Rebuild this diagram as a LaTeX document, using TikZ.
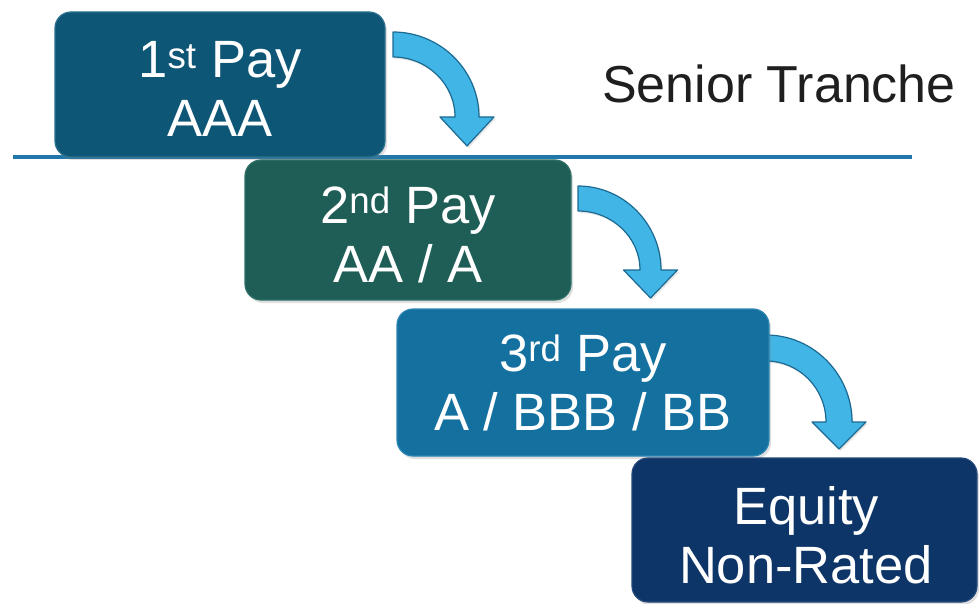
\documentclass[tikz,border=0pt]{standalone}
\usepackage{fontspec}
\setmainfont{Liberation Sans}
\usetikzlibrary{shadows}
\definecolor{cA}{HTML}{0E5676}
\definecolor{cAe}{HTML}{2A6F8E}
\definecolor{cB}{HTML}{1F5E56}
\definecolor{cBe}{HTML}{2E7168}
\definecolor{cC}{HTML}{13709F}
\definecolor{cCe}{HTML}{2C86B4}
\definecolor{cD}{HTML}{0E3567}
\definecolor{cDe}{HTML}{24497A}
\definecolor{arrfill}{HTML}{41B5E6}
\definecolor{arredge}{HTML}{1C6A92}
\definecolor{linec}{HTML}{2277AA}
\newcommand{\bentarrow}[8]{%
 \path[bentstyle] (#1,#2) .. controls ({#1+0.55*(#4-#1)},#2) and (#4,{#6-0.55*(#6-#2)}) .. (#4,#6)
  -- ({(#4+#5)/2+#7},#6) -- ({(#4+#5)/2},#8) -- ({(#4+#5)/2-#7},#6) -- (#5,#6)
  .. controls (#5,{#6-0.55*(#6-#2-#3)}) and ({#1+0.55*(#5-#1)},{#2+#3}) .. (#1,{#2+#3}) -- cycle;}
\begin{document}
\begin{tikzpicture}[x=1pt,y=-1pt,
  tranche/.style={rounded corners=16pt, line width=1.2pt, inner sep=0pt,
    drop shadow={opacity=0.25, shadow xshift=2pt, shadow yshift=-3pt}},
  label/.style={text=white, align=center, font=\fontsize{52.5}{59}\selectfont, anchor=base},
  bentstyle/.style={fill=arrfill, draw=arredge, line width=1.2pt, line join=round,
    drop shadow={opacity=0.2, shadow xshift=1.5pt, shadow yshift=-2pt}},
  sep/.style={draw=linec, line width=3.5pt}]
\useasboundingbox (0,0) rectangle (979,604);
\coordinate (l1) at (13,157);
\coordinate (l2) at (912,157);
\draw[sep] (l1) -- (l2);
\bentarrow{393}{32}{25}{479}{455}{117}{27}{146}
\bentarrow{578}{186}{25}{661}{640}{270}{27}{298}
\bentarrow{766}{335}{26}{852}{826}{422}{27}{449}
\node[tranche, fill=cA, draw=cAe, minimum width=330pt, minimum height=145pt] (b1) at (220,84.5) {};
\node[tranche, fill=cB, draw=cBe, minimum width=326pt, minimum height=140pt] (b2) at (408,230) {};
\node[tranche, fill=cC, draw=cCe, minimum width=372pt, minimum height=147pt] (b3) at (583,382.5) {};
\node[tranche, fill=cD, draw=cDe, minimum width=345pt, minimum height=144pt] (b4) at (804.5,530) {};
\node[label] (t1) at (220,137) {1\textsuperscript{st} Pay\\AAA};
\node[label] (t2) at (408,282) {2\textsuperscript{nd} Pay\\AA / A};
\node[label] (t3) at (583,430) {3\textsuperscript{rd} Pay\\A / BBB / BB};
\node[label] (t4) at (806,583) {Equity\\Non-Rated};
\node[text=black!88, font=\fontsize{52}{60}\selectfont, anchor=base] (st) at (779,103) {Senior Tranche};
\end{tikzpicture}
\end{document}
